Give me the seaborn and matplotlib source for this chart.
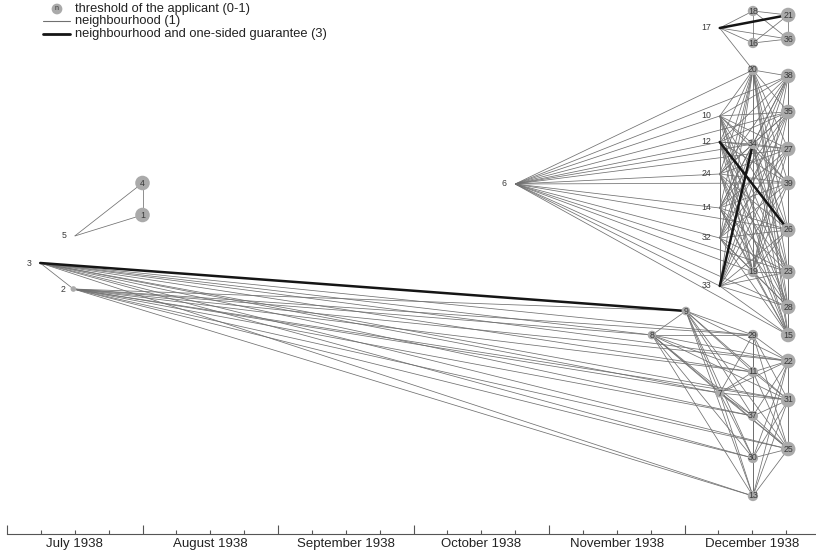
import itertools
import numpy as np
import pandas as pd
import matplotlib
matplotlib.use("Agg")
import matplotlib.pyplot as plt
import seaborn as sns
from matplotlib.collections import LineCollection
from matplotlib.ticker import FixedLocator, FuncFormatter

# ---------------- data ----------------
node_ids = [1, 4, 5, 3, 2, 6,
            17, 18, 16, 21, 36,
            20, 38, 10, 35, 12, 34, 27, 24, 39, 14, 26, 32, 19, 23, 33, 28, 15,
            9, 29, 8, 22, 11, 7, 31, 37, 25, 30, 13]
# position in months since 1 July 1938
node_month = [1.00, 1.00, 0.50, 0.245, 0.49, 3.75,
              5.26, 5.505, 5.505, 5.765, 5.765,
              5.505, 5.765, 5.26, 5.765, 5.26, 5.505, 5.765, 5.26, 5.765, 5.26, 5.765, 5.26, 5.505, 5.765, 5.26, 5.765, 5.765,
              5.01, 5.505, 4.76, 5.765, 5.505, 5.26, 5.765, 5.505, 5.765, 5.505, 5.505]
# vertical level (layout row)
node_level = [215, 183, 236, 263, 289, 184,
              28, 11, 43, 15, 39,
              70, 76, 116, 112, 142, 144, 149, 174, 183, 208, 230, 238, 272, 272, 286, 307, 335,
              311, 335, 335, 361, 372, 393, 400, 416, 449, 458, 496]
# threshold of the applicant (0-1)
node_threshold = [1.0, 1.0, 0.0, 0.0, 0.15, 0.0,
                  0.0, 0.5, 0.5, 1.0, 1.0,
                  0.5, 1.0, 0.0, 1.0, 0.0, 0.5, 1.0, 0.0, 1.0, 0.0, 1.0, 0.0, 0.5, 1.0, 0.0, 1.0, 1.0,
                  0.35, 0.5, 0.35, 1.0, 0.5, 0.38, 1.0, 0.5, 1.0, 0.5, 0.5]

# groups whose members are all mutual neighbours
clique_top = [17, 18, 16, 21, 36]
clique_upper = [20, 38, 10, 35, 12, 34, 27, 24, 39, 14, 26, 32, 19, 23, 33, 28, 15]
clique_lower = [9, 8, 29, 22, 11, 7, 31, 37, 25, 30, 13]
clique_triangle = [5, 4, 1]
# other neighbourhood ties
extra_ties = [(17, 20), (3, 2),
              (3, 8), (3, 29), (3, 22), (3, 11), (3, 7), (3, 31), (3, 37), (3, 25), (3, 30), (3, 13),
              (2, 9), (2, 8), (2, 29), (2, 22), (2, 11), (2, 7), (2, 31), (2, 37), (2, 25), (2, 30), (2, 13)]
hub_6_targets = clique_upper
# neighbourhood and one-sided guarantee
guarantee_ties = [(17, 21), (3, 9), (12, 26), (33, 34)]

month_labels = ["July 1938", "August 1938", "September 1938", "October 1938",
                "November 1938", "December 1938"]

# ---------------- build tables ----------------
nodes = pd.DataFrame({"id": node_ids, "month": node_month,
                      "level": node_level, "threshold": node_threshold})
pos = {r.id: (r.month, r.level) for r in nodes.itertuples()}

thin = []
for grp in (clique_top, clique_upper, clique_lower, clique_triangle):
    thin += list(itertools.combinations(grp, 2))
thin += extra_ties
thin += [(6, t) for t in hub_6_targets]
gset = {frozenset(e) for e in guarantee_ties}
thin = [e for e in thin if frozenset(e) not in gset]

# ---------------- figure ----------------
sns.set_theme(style="white")
plt.rcParams["font.family"] = ["Liberation Sans", "DejaVu Sans"]

W, H = 816, 554
fig = plt.figure(figsize=(W / 100, H / 100), dpi=100)
ax = fig.add_axes([0, 0, 1, 1])
x0px, mpx = 7.0, 135.5
ax.set_xlim(-x0px / mpx, (W - x0px) / mpx)
ax.set_ylim(H, 0)

lc = LineCollection([[pos[a], pos[b]] for a, b in thin], colors="#707070",
                    linewidths=0.55, zorder=1)
ax.add_collection(lc)
lc2 = LineCollection([[pos[a], pos[b]] for a, b in guarantee_ties], colors="#151515",
                     linewidths=1.8, zorder=2, capstyle="round")
ax.add_collection(lc2)

vis = nodes[nodes.threshold > 0]
sns.scatterplot(data=vis, x="month", y="level", size="threshold",
                sizes=(0, 110), size_norm=(0, 1), color="#aaaaaa",
                edgecolor="none", linewidth=0, legend=False, ax=ax, zorder=3)

for r in nodes.itertuples():
    if r.threshold >= 0.3:
        ax.text(r.month, r.level, str(r.id), ha="center", va="center",
                fontsize=6.3, color="#3a3a3a", zorder=4)
    else:
        ax.annotate(str(r.id), (r.month, r.level), xytext=(-6, 0),
                    textcoords="offset points", ha="right", va="center",
                    fontsize=6.3, color="#3a3a3a", zorder=4)

# axis
for s in ["top", "left", "right"]:
    ax.spines[s].set_visible(False)
ax.spines["bottom"].set_position(("data", 534))
ax.spines["bottom"].set_bounds(0, (W - x0px) / mpx)
ax.spines["bottom"].set_color("#555555")
ax.spines["bottom"].set_linewidth(0.8)
ax.set_yticks([])
ax.xaxis.set_major_locator(FixedLocator(range(6)))
ax.xaxis.set_major_formatter(FuncFormatter(lambda v, p: ""))
minor = [m + q for m in range(6) for q in (0.25, 0.5, 0.75)]
ax.xaxis.set_minor_locator(FixedLocator(minor))
ax.xaxis.set_minor_formatter(FuncFormatter(
    lambda v, p: month_labels[int(v)] if abs(v - int(v) - 0.5) < 1e-6 else ""))
ax.tick_params(axis="x", which="major", direction="in", length=6.5, width=0.8,
               color="#555555", bottom=True)
ax.tick_params(axis="x", which="minor", direction="in", length=3, width=0.8,
               color="#555555", labelsize=9.5, labelcolor="#222222", pad=3, bottom=True)
ax.set_xlabel("")
ax.set_ylabel("")

# legend
def fx(px):
    return px / W

def fy(py):
    return 1 - py / H

ax.scatter([fx(57)], [fy(9)], s=60, color="#aaaaaa", transform=ax.transAxes,
           zorder=5, edgecolor="none")
ax.text(fx(57), fy(9), "n", ha="center", va="center", fontsize=5, color="#333333",
        transform=ax.transAxes, zorder=6)
ax.plot([fx(43), fx(70)], [fy(21), fy(21)], color="#707070", lw=0.8,
        transform=ax.transAxes)
ax.plot([fx(43), fx(70)], [fy(34), fy(34)], color="#151515", lw=2.0,
        transform=ax.transAxes)
for py, t in [(9, "threshold of the applicant (0-1)"), (21, "neighbourhood (1)"),
              (34, "neighbourhood and one-sided guarantee (3)")]:
    ax.text(fx(75), fy(py), t, ha="left", va="center", fontsize=9.3,
            color="#222222", transform=ax.transAxes)

fig.savefig("out.png", dpi=100)
